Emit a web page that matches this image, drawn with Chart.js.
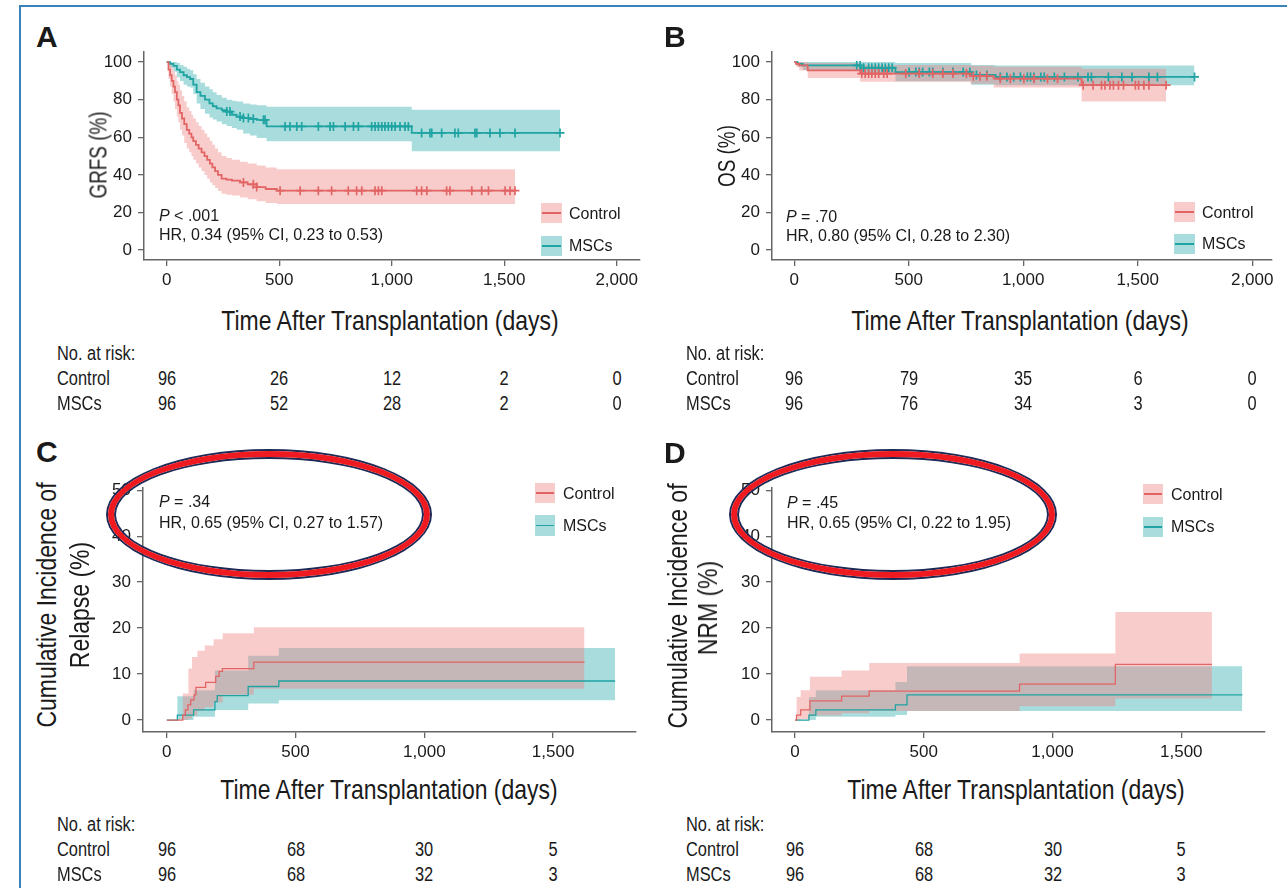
<!DOCTYPE html>
<html>
<head>
<meta charset="utf-8">
<script src="https://cdn.jsdelivr.net/npm/chart.js@4.4.1/dist/chart.umd.min.js"></script>
<style>
  html, body { margin: 0; padding: 0; background: #fff; }
  #page { position: relative; width: 1287px; height: 888px; overflow: hidden; background: #fff;
          font-family: "Liberation Sans", Arial, sans-serif; color: #1a1a1a; }
  .t { position: absolute; white-space: nowrap; line-height: 1; }
  canvas { position: absolute; }
  .frame { position: absolute; left: 19px; top: 5px; width: 1300px; height: 900px;
           border: 2px solid #3b82b8; box-sizing: border-box; }
  .ell { position: absolute; box-sizing: border-box; border-radius: 50%; border: 6px solid #ee1a1f;
         box-shadow: 0 0 0 2px #1c2a55, inset 0 0 0 2px #1c2a55; z-index: 5; }
</style>
</head>
<body>
<div id="page"><div class="frame"></div></div>
<script>
// ---- A: GRFS (Kaplan-Meier, %) ----
const grfsCtrlT  = [0, 8, 15, 22, 30, 37, 45, 52, 59, 68, 78, 89, 100, 110, 118, 130, 142, 155, 168, 180, 192, 203, 215, 228, 244, 265, 290, 326, 360, 400, 440, 489];
const grfsCtrlS  = [100, 96, 93, 90, 87, 84, 80, 77, 73, 70, 67, 64, 62, 60, 58, 56, 54, 52, 50, 48, 46, 44, 42, 40, 38, 37.5, 37, 36, 35, 33.5, 32.5, 31.6];
const grfsCtrlUp = [100, 100, 99, 97, 95, 93, 90, 88, 85, 82, 79, 76, 74, 72, 70, 68, 66, 64, 62, 60, 58, 56, 54, 52, 50, 49, 48, 47, 46, 45, 44, 43];
const grfsCtrlLo = [100, 91, 87, 83, 79, 75, 71, 68, 64, 61, 57, 54, 52, 50, 48, 46, 44, 42, 40, 38, 36, 34.5, 33, 31.5, 30, 29.5, 29, 28, 27, 26, 25, 24.5];
const grfsCtrlCens = [341, 385, 400, 504, 593, 674, 733, 807, 844, 867, 926, 941, 956, 1111, 1133, 1156, 1244, 1259, 1356, 1400, 1430, 1504, 1526, 1548];
const grfsMscT  = [0, 15, 30, 45, 59, 75, 90, 104, 118, 133, 150, 170, 190, 205, 222, 245, 267, 290, 311, 340, 370, 400, 444, 1089];
const grfsMscS  = [100, 99, 98, 96, 94.7, 93, 92, 91, 88, 84, 82, 80, 78, 76.5, 75.4, 74.5, 73.7, 72, 71, 70.2, 69.8, 69.3, 65.8, 62.3];
const grfsMscUp = [100, 100, 100, 99.5, 98.5, 97.5, 96.5, 95.6, 93.5, 91, 89, 87, 85.5, 84, 82.5, 81, 80, 79.5, 79, 78, 77.5, 77, 76.3, 74.6];
const grfsMscLo = [100, 97, 95, 92, 90, 88, 87, 86.5, 83, 78, 75, 72.5, 70.5, 69.5, 68.4, 67, 66, 65, 64, 62, 61, 59.6, 57.9, 52.6];
const grfsMscCens = [267, 281, 326, 341, 363, 385, 430, 437, 526, 548, 578, 600, 674, 726, 741, 793, 830, 852, 911, 926, 941, 956, 970, 985, 1000, 1015, 1037, 1059, 1074, 1133, 1170, 1178, 1222, 1281, 1296, 1370, 1378, 1437, 1481, 1548, 1748];
const grfsRiskCtrl = [96, 26, 12, 2, 0];
const grfsRiskMsc  = [96, 52, 28, 2, 0];

// ---- B: OS (%) ----
const osCtrlT  = [0, 8, 22, 59, 288, 770, 871, 1255];
const osCtrlS  = [100, 99, 98.2, 95.6, 93.9, 92.5, 91.2, 87.7];
const osCtrlUp = [100, 100, 100, 99.5, 98.5, 98, 97.5, 96.5];
const osCtrlLo = [100, 97.5, 95.5, 91.5, 89.5, 88.5, 86.5, 79];
const osCtrlCens = [295, 310, 325, 339, 354, 369, 391, 406, 487, 546, 605, 649, 693, 752, 782, 811, 841, 900, 944, 1003, 1047, 1106, 1150, 1262, 1305, 1342, 1357, 1379, 1394, 1416, 1438, 1490, 1504, 1527, 1549, 1624];
const osMscT  = [0, 15, 37, 290, 442, 773, 880];
const osMscS  = [100, 99.1, 98.2, 97, 94.7, 93.2, 92.1];
const osMscUp = [100, 100, 100, 100, 99.5, 98.5, 98.2];
const osMscLo = [100, 97.5, 95.8, 94, 89.8, 88, 87.7];
const osMscCens = [273, 288, 303, 325, 339, 354, 369, 384, 398, 413, 428, 502, 531, 546, 561, 590, 605, 649, 693, 738, 767, 796, 841, 900, 929, 959, 988, 1018, 1032, 1047, 1077, 1092, 1136, 1180, 1239, 1283, 1298, 1372, 1431, 1475, 1549, 1586, 1748];
const osRiskCtrl = [96, 79, 35, 6, 0];
const osRiskMsc  = [96, 76, 34, 3, 0];

// ---- C: cumulative incidence of relapse (%) ----
const relCtrlT = [0, 62, 72, 82, 93, 106, 113, 151, 190, 203, 216, 338];
const relCtrlV = [0, 1.1, 2.2, 3.3, 4.4, 5.5, 7.1, 8.2, 9.5, 10.6, 11.2, 12.6];
const relCtrlEnd = 1622;
const relCtrlBandT = [0, 62, 84, 98, 119, 147, 182, 217, 338];
const relCtrlUp = [0, 5.8, 11.2, 13.7, 15.1, 16.2, 17.6, 18.9, 20.2];
const relCtrlLo = [0, 0, 0.3, 1.0, 2.0, 2.8, 3.8, 5.5, 6.8];
const relMscT = [0, 41, 104, 187, 196, 316, 435];
const relMscV = [0, 1.1, 2.2, 4.0, 5.3, 7.3, 8.5];
const relMscEnd = 1741;
const relMscBandT = [0, 41, 104, 187, 316, 435];
const relMscUp = [0, 5.2, 6.5, 10.8, 14.0, 15.7];
const relMscLo = [0, 0, 0.7, 2.2, 3.6, 4.3];
const relRiskCtrl = [96, 68, 30, 5];
const relRiskMsc  = [96, 68, 32, 3];

// ---- D: cumulative incidence of NRM (%) ----
const nrmCtrlT = [0, 6, 22, 58, 181, 288, 872, 1244];
const nrmCtrlV = [0, 1.1, 2.2, 4.2, 5.2, 6.3, 7.8, 12.1];
const nrmCtrlEnd = 1619;
const nrmCtrlUp = [0, 5.0, 6.5, 9.4, 10.8, 12.4, 14.5, 23.5];
const nrmCtrlLo = [0, 0, 0.2, 1.0, 1.5, 2.0, 3.0, 4.7];
const nrmMscT = [0, 54, 81, 390, 435];
const nrmMscV = [0, 1.1, 2.2, 3.3, 5.5];
const nrmMscEnd = 1737;
const nrmMscUp = [0, 5.0, 6.5, 8.3, 11.7];
const nrmMscLo = [0, 0, 0.7, 1.1, 2.0];
const nrmRiskCtrl = [96, 68, 30, 5];
const nrmRiskMsc  = [96, 68, 32, 3];

const ticksSurv = [0, 20, 40, 60, 80, 100];
const ticksCum  = [0, 10, 20, 30, 40, 50];
const ticksDays2000 = [0, 500, 1000, 1500, 2000];
const ticksDays1500 = [0, 500, 1000, 1500];

const FONT = '"Liberation Sans", Arial, sans-serif';
const SQUEEZE = 0.82;   // no narrow face installed, so condense the regular one
const RED = '#e26565', TEAL = '#1fa3a3';
const RED_BAND = 'rgba(240,128,128,0.40)', TEAL_BAND = 'rgba(40,170,170,0.40)';

const page = document.getElementById('page');

function steps(t, v, end) {
  const pts = t.map((x, i) => ({ x: x, y: v[i] }));
  pts.push({ x: end, y: v[v.length - 1] });
  return pts;
}
function valueAt(t, v, x) {
  let k = 0;
  for (let i = 0; i < t.length; i++) if (t[i] <= x) k = i;
  return v[k];
}

function txt(s, x, base, size, o) {
  o = o || {};
  const d = document.createElement('div');
  d.className = 't';
  d.innerHTML = s;
  d.style.fontSize = size + 'px';
  if (o.bold) d.style.fontWeight = 'bold';
  d.style.top = (base - 0.847 * size) + 'px';
  d.style.left = x + 'px';
  const sq = o.narrow ? ' scaleX(' + SQUEEZE + ')' : '';
  if (o.align === 'center') {
    d.style.transform = 'translateX(-50%)' + sq;
    d.style.transformOrigin = '50% 50%';
  } else {
    d.style.transform = sq || 'none';
    d.style.transformOrigin = '0 50%';
  }
  page.appendChild(d);
  return d;
}
function vtxt(s, cx, cy, size) {
  const d = document.createElement('div');
  d.className = 't';
  d.textContent = s;
  d.style.fontSize = size + 'px';
  d.style.left = cx + 'px';
  d.style.top = cy + 'px';
  d.style.transform = 'translate(-50%,-50%) rotate(-90deg) scaleX(' + SQUEEZE + ')';
  page.appendChild(d);
}
function box(x, y, w, h, bg, line) {
  const b = document.createElement('div');
  b.style.cssText = 'position:absolute;left:' + x + 'px;top:' + y + 'px;width:' + w + 'px;height:' + h + 'px;background:' + bg;
  const l = document.createElement('div');
  l.style.cssText = 'position:absolute;left:1px;right:1px;top:' + (h / 2 - 0.75) + 'px;height:1.5px;background:' + line;
  b.appendChild(l);
  page.appendChild(b);
}

function panel(p) {
  const yw = 64, xh = 40, padT = 14, padR = 34;
  const w = p.right - p.left, h = p.bottom - p.top;
  const cv = document.createElement('canvas');
  cv.width = w + yw + padR;
  cv.height = h + padT + xh;
  cv.style.left = (p.left - yw) + 'px';
  cv.style.top = (p.top - padT) + 'px';
  page.appendChild(cv);

  const datasets = [];
  p.series.forEach(s => {
    datasets.push({ data: steps(s.t, s.v, s.end), borderColor: s.color, borderWidth: p.lw,
                    stepped: true, pointRadius: 0, fill: false });
    if (s.cens) {
      datasets.push({ data: s.cens.map(c => ({ x: c, y: valueAt(s.t, s.v, c) })), showLine: false,
                      pointStyle: 'cross', pointRadius: 4.5, pointBorderColor: s.color,
                      pointBackgroundColor: s.color, pointBorderWidth: 1.7 });
    }
  });
  p.series.forEach(s => {
    const bt = s.bt || s.t;
    datasets.push({ data: steps(bt, s.up, s.end), borderColor: 'rgba(0,0,0,0)', borderWidth: 0,
                    stepped: true, pointRadius: 0, fill: false });
    datasets.push({ data: steps(bt, s.lo, s.end), borderColor: 'rgba(0,0,0,0)', borderWidth: 0,
                    stepped: true, pointRadius: 0, fill: '-1', backgroundColor: s.band });
  });

  const axisGrid = { display: true, drawOnChartArea: false, drawTicks: true, tickLength: 6,
                     color: '#666', lineWidth: 1.3 };
  const chart = new Chart(cv, {
    type: 'line',
    data: { datasets: datasets },
    options: {
      responsive: false,
      animation: false,
      events: [],
      layout: { padding: { top: padT, right: padR, left: 0, bottom: 0 } },
      plugins: { legend: { display: false }, tooltip: { enabled: false } },
      scales: {
        x: {
          type: 'linear', min: p.xMin, max: p.xMax,
          afterBuildTicks: sc => { sc.ticks = p.xTicks.map(v => ({ value: v })); },
          afterFit: sc => { sc.height = xh; },
          grid: axisGrid,
          border: { display: true, color: '#666', width: 1.5 },
          ticks: { color: '#1a1a1a', font: { family: FONT, size: 17 }, padding: 4, maxRotation: 0,
                   autoSkip: false, callback: v => Number(v).toLocaleString('en-US') }
        },
        y: {
          type: 'linear', min: p.yMin, max: p.yMax,
          afterBuildTicks: sc => { sc.ticks = p.yTicks.map(v => ({ value: v })); },
          afterFit: sc => { sc.width = yw; },
          grid: axisGrid,
          border: { display: true, color: '#666', width: 1.5 },
          ticks: { color: '#1a1a1a', font: { family: FONT, size: 17 }, padding: 6, autoSkip: false }
        }
      }
    }
  });
  // column centres of the risk table follow the x-axis ticks
  const left = p.left - yw;
  return p.riskTimes.map(t => left + chart.scales.x.getPixelForValue(t));
}

function riskTable(x0, base, cols, ctrl, msc) {
  txt('No. at risk:', x0, base, 20, { narrow: true });
  txt('Control', x0, base + 25, 20, { narrow: true });
  txt('MSCs', x0, base + 50, 20, { narrow: true });
  cols.forEach((cx, i) => {
    txt(String(ctrl[i]), cx, base + 25, 20, { narrow: true, align: 'center' });
    txt(String(msc[i]), cx, base + 50, 20, { narrow: true, align: 'center' });
  });
}

// ---------- Panel A ----------
const colsA = panel({
  left: 144, top: 50, right: 640, bottom: 260,
  xMin: -100.9, xMax: 2103.6, yMin: -5.26, yMax: 105.26,
  xTicks: ticksDays2000, yTicks: ticksSurv, riskTimes: ticksDays2000, lw: 1.8,
  series: [
    { t: grfsCtrlT, v: grfsCtrlS, up: grfsCtrlUp, lo: grfsCtrlLo, end: 1548, cens: grfsCtrlCens, color: RED, band: RED_BAND },
    { t: grfsMscT, v: grfsMscS, up: grfsMscUp, lo: grfsMscLo, end: 1748, cens: grfsMscCens, color: TEAL, band: TEAL_BAND }
  ]
});
// ---------- Panel B ----------
const colsB = panel({
  left: 772, top: 50, right: 1272, bottom: 260,
  xMin: -96.9, xMax: 2086.5, yMin: -5.26, yMax: 105.26,
  xTicks: ticksDays2000, yTicks: ticksSurv, riskTimes: ticksDays2000, lw: 1.8,
  series: [
    { t: osCtrlT, v: osCtrlS, up: osCtrlUp, lo: osCtrlLo, end: 1624, cens: osCtrlCens, color: RED, band: RED_BAND },
    { t: osMscT, v: osMscS, up: osMscUp, lo: osMscLo, end: 1748, cens: osMscCens, color: TEAL, band: TEAL_BAND }
  ]
});
// ---------- Panel C ----------
const colsC = panel({
  left: 143, top: 486, right: 636, bottom: 732,
  xMin: -92.4, xMax: 1822, yMin: -2.59, yMax: 50.43,
  xTicks: ticksDays1500, yTicks: ticksCum, riskTimes: ticksDays1500, lw: 1.3,
  series: [
    { t: relCtrlT, v: relCtrlV, bt: relCtrlBandT, up: relCtrlUp, lo: relCtrlLo, end: relCtrlEnd, color: RED, band: RED_BAND },
    { t: relMscT, v: relMscV, bt: relMscBandT, up: relMscUp, lo: relMscLo, end: relMscEnd, color: TEAL, band: TEAL_BAND }
  ]
});
// ---------- Panel D ----------
const colsD = panel({
  left: 772, top: 486, right: 1265, bottom: 732,
  xMin: -89.3, xMax: 1825, yMin: -2.59, yMax: 50.43,
  xTicks: ticksDays1500, yTicks: ticksCum, riskTimes: ticksDays1500, lw: 1.3,
  series: [
    { t: nrmCtrlT, v: nrmCtrlV, up: nrmCtrlUp, lo: nrmCtrlLo, end: nrmCtrlEnd, color: RED, band: RED_BAND },
    { t: nrmMscT, v: nrmMscV, up: nrmMscUp, lo: nrmMscLo, end: nrmMscEnd, color: TEAL, band: TEAL_BAND }
  ]
});

// panel letters
txt('A', 36, 47, 30, { bold: true });
txt('B', 664, 47, 30, { bold: true });
txt('C', 36, 462, 30, { bold: true });
txt('D', 664, 463, 30, { bold: true });

// axis titles
txt('Time After Transplantation (days)', 390, 331, 28, { narrow: true, align: 'center' });
txt('Time After Transplantation (days)', 1020, 331, 28, { narrow: true, align: 'center' });
txt('Time After Transplantation (days)', 389, 800, 28, { narrow: true, align: 'center' });
txt('Time After Transplantation (days)', 1016, 800, 28, { narrow: true, align: 'center' });
vtxt('GRFS (%)', 99, 155, 23);
vtxt('OS (%)', 727, 156, 23);
vtxt('Cumulative Incidence of', 47, 605, 28);
vtxt('Relapse (%)', 80, 605, 28);
vtxt('Cumulative Incidence of', 678, 606, 28);
vtxt('NRM (%)', 708, 608, 28);

// statistics
txt('<i>P</i> &lt; .001', 159, 221.5, 16);
txt('HR, 0.34 (95% CI, 0.23 to 0.53)', 159, 241, 16);
txt('<i>P</i> = .70', 786, 222.5, 16);
txt('HR, 0.80 (95% CI, 0.28 to 2.30)', 786, 242, 16);
txt('<i>P</i> = .34', 159, 508, 16);
txt('HR, 0.65 (95% CI, 0.27 to 1.57)', 159, 528.5, 16);
txt('<i>P</i> = .45', 787, 509, 16);
txt('HR, 0.65 (95% CI, 0.22 to 1.95)', 787, 529, 16);

// legends
box(541, 203, 21, 20, RED_BAND, RED);  txt('Control', 569, 220, 16);
box(541, 236, 21, 20, TEAL_BAND, TEAL); txt('MSCs', 569, 252, 16);
box(1174, 202, 21, 20, RED_BAND, RED);  txt('Control', 1202, 218.5, 16);
box(1174, 234, 21, 20, TEAL_BAND, TEAL); txt('MSCs', 1202, 250, 16);
box(535, 483, 20, 20, RED_BAND, RED);  txt('Control', 563, 500, 16);
box(535, 515, 20, 21, TEAL_BAND, TEAL); txt('MSCs', 563, 532, 16);
box(1143, 484, 20, 20, RED_BAND, RED);  txt('Control', 1171, 500.5, 16);
box(1143, 517, 20, 20, TEAL_BAND, TEAL); txt('MSCs', 1171, 532.5, 16);

// risk tables
riskTable(57, 360, colsA, grfsRiskCtrl, grfsRiskMsc);
riskTable(686, 360, colsB, osRiskCtrl, osRiskMsc);
riskTable(57, 831, colsC, relRiskCtrl, relRiskMsc);
riskTable(686, 831, colsD, nrmRiskCtrl, nrmRiskMsc);

// red highlight ellipses
[[108, 451, 322, 127], [731, 451, 324, 127]].forEach(e => {
  const d = document.createElement('div');
  d.className = 'ell';
  d.style.left = e[0] + 'px'; d.style.top = e[1] + 'px';
  d.style.width = e[2] + 'px'; d.style.height = e[3] + 'px';
  page.appendChild(d);
});
</script>
</body>
</html>
